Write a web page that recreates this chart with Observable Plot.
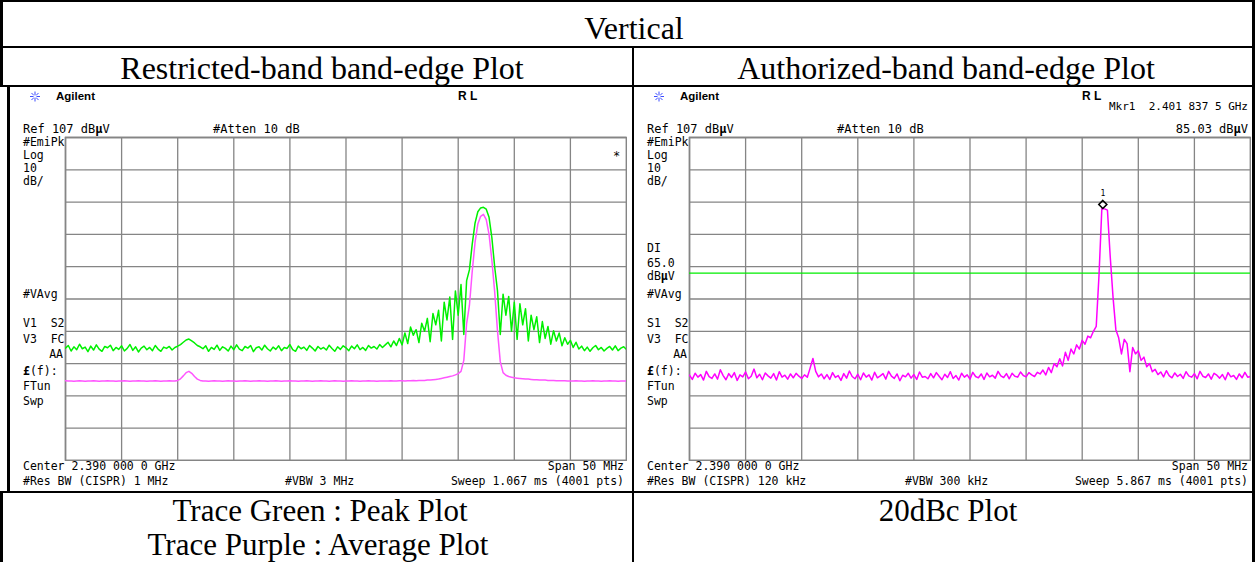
<!DOCTYPE html>
<html>
<head>
<meta charset="utf-8">
<script src="https://cdn.jsdelivr.net/npm/d3@7"></script>
<script src="https://cdn.jsdelivr.net/npm/@observablehq/plot@0.6"></script>
<style>
  body { margin: 0; background: #fff; }
  #page { position: relative; width: 1255px; height: 562px; overflow: hidden; background: #fff; }
  #page svg.panel { position: absolute; }
  #overlay { position: absolute; left: 0; top: 0; pointer-events: none; }
</style>
</head>
<body>
<div id="page"></div>
<script>
// ---- Analyzer settings (both screens) ----
const centerMHz = 2390;
const spanMHz = 50;
const refLevel = 107;      // dBµV, top graticule line
const dBPerDiv = 10;
const divisions = 10;
const sweepStepMHz = 0.25; // spacing of the readings below, starting at the left edge

// ---- Restricted-band plot: peak detector trace (green), dBµV ----
const peakTrace = [
  41.8, 42.6, 40.9, 42.2, 41.3, 43.0, 41.6, 42.1, 40.7, 42.4,
  41.2, 42.8, 41.5, 40.8, 42.3, 41.9, 42.7, 41.0, 42.0, 41.4,
  42.5, 40.9, 41.7, 42.9, 41.1, 42.2, 40.6, 41.8, 42.4, 41.3,
  42.0, 41.0, 42.6, 41.5, 40.8, 42.1, 41.7, 42.3, 41.2, 42.0,
  42.4, 42.9, 43.6, 44.3, 44.6, 44.0, 43.4, 42.6, 42.2,
  41.6, 42.5, 40.8, 42.0, 41.4, 42.7, 41.1, 42.2, 41.7, 40.9,
  42.4, 41.3, 42.8, 41.5, 41.0, 42.3, 41.8, 42.6, 40.7, 41.9,
  42.2, 41.2, 42.7, 41.6, 40.9, 42.1, 41.4, 42.5, 41.0, 42.0,
  41.7, 42.9, 41.3, 40.8, 42.4, 41.6, 42.1, 41.1, 42.6, 41.8,
  40.9, 42.3, 41.5, 42.0, 41.2, 42.7, 41.7, 40.8, 42.2, 41.4,
  42.5, 41.9, 41.0, 42.4, 41.6, 42.8, 41.3, 42.0, 41.1, 42.6,
  41.8, 42.3, 41.5, 42.9, 42.0,
  42.8, 43.6, 42.2, 44.0, 42.6, 44.8, 42.8, 46.5, 43.2, 48.3,
  45.8, 47.5, 43.5, 49.5, 47.0, 51.0, 43.8, 52.5, 49.0, 53.5,
  44.0, 56.0, 50.5, 57.6, 44.5, 59.5, 52.0, 61.5, 46.0, 62.7,
  66.0, 74.0, 80.5, 84.0, 85.2, 85.4, 84.8, 82.3, 76.0, 67.0,
  59.6, 46.0, 58.5, 52.0, 57.8, 47.0, 56.0, 44.5, 55.5, 49.0,
  54.0, 44.0, 52.0, 47.5, 51.5, 43.5, 50.0, 44.8, 48.5, 43.0,
  47.2, 44.0, 46.5, 42.5, 45.0, 43.0, 44.2, 42.0, 43.6,
  41.5, 42.4, 41.0, 42.1, 40.8, 41.9, 42.6, 41.3, 42.0, 40.9,
  41.7, 42.3, 41.2, 42.5, 41.0, 41.8, 42.2, 41.4
];

// ---- Restricted-band plot: average detector trace (purple), dBµV ----
const averageTrace = [
  31.7, 31.6, 31.6, 31.5, 31.6, 31.7, 31.6, 31.5, 31.6, 31.6,
  31.7, 31.6, 31.5, 31.6, 31.6, 31.7, 31.6, 31.6, 31.5, 31.6,
  31.6, 31.7, 31.6, 31.5, 31.6, 31.6, 31.7, 31.6, 31.6, 31.5,
  31.6, 31.6, 31.7, 31.6, 31.5, 31.6, 31.6, 31.7, 31.6, 31.6,
  31.8, 32.3, 33.2, 34.2, 34.6, 34.0, 33.0, 32.2, 31.8,
  31.6, 31.6, 31.5, 31.6, 31.7, 31.6, 31.6, 31.5, 31.6, 31.7,
  31.6, 31.6, 31.5, 31.6, 31.6, 31.7, 31.6, 31.5, 31.6, 31.6,
  31.7, 31.6, 31.6, 31.5, 31.6, 31.6, 31.7, 31.6, 31.5, 31.6,
  31.6, 31.7, 31.6, 31.6, 31.5, 31.6, 31.6, 31.7, 31.6, 31.5,
  31.6, 31.6, 31.7, 31.6, 31.6, 31.5, 31.6, 31.7, 31.6, 31.6,
  31.5, 31.6, 31.6, 31.7, 31.6, 31.6, 31.5, 31.6, 31.6, 31.7,
  31.6, 31.6, 31.5, 31.6, 31.6,
  31.6, 31.6, 31.7, 31.6, 31.6, 31.7, 31.7, 31.6, 31.7, 31.7, 31.8, 31.7, 31.8, 31.8,
  31.8, 31.9, 31.9, 32.0, 32.1, 32.2, 32.4, 32.6, 32.8, 33.0, 33.2, 33.5, 33.9, 34.6, 38.0, 49.4,
  55.0, 65.5, 74.5, 80.2, 82.6, 83.2, 81.6, 77.0, 69.0, 59.3, 47.2, 37.6, 34.2, 33.4, 33.0, 32.8, 32.6,
  32.5, 32.4, 32.3, 32.2, 32.2, 32.1, 32.0, 32.0, 31.9, 31.9,
  31.9, 31.8, 31.8, 31.8, 31.7, 31.7, 31.7, 31.7, 31.6, 31.6,
  31.6, 31.7, 31.6, 31.6, 31.5, 31.6, 31.6, 31.7, 31.6, 31.6,
  31.5, 31.6, 31.6, 31.7, 31.6, 31.6, 31.5, 31.6, 31.6, 31.6
];

// ---- Authorized-band (20 dBc) plot: trace (purple), dBµV ----
const dBcTrace = [
  33.4, 32.1, 34.0, 32.8, 33.6, 31.9, 34.6, 33.0, 32.4, 33.8,
  32.2, 35.1, 33.3, 32.0, 33.9, 32.7, 34.2, 31.8, 33.5, 32.9,
  34.4, 32.3, 33.1, 35.3, 32.6, 33.7, 32.0, 34.1, 33.2, 32.5,
  33.9, 31.9, 34.5, 32.8, 33.4, 32.2, 33.8, 32.6, 34.0, 33.1,
  32.4, 33.5, 32.8, 35.6, 38.6, 34.6, 32.9, 33.8, 32.3,
  33.6, 32.1, 34.2, 32.7, 33.3, 31.8, 33.9, 32.5, 34.7, 33.0,
  32.3, 33.7, 32.0, 34.1, 32.8, 33.5, 31.9, 34.3, 32.6, 33.2,
  33.9, 32.2, 34.6, 33.1, 32.4, 33.8, 31.7, 33.4, 32.9, 34.0,
  32.5, 33.6, 32.1, 34.4, 32.8, 33.0, 32.3, 33.9, 32.6, 34.2,
  33.1, 32.0, 33.7, 32.7, 34.5, 32.4, 33.3, 31.9, 34.0, 32.8,
  33.5, 32.2, 34.3, 33.0, 32.6, 33.8, 32.1, 34.1, 32.9, 33.4,
  32.5, 34.6, 33.2, 32.7, 33.9, 32.3, 34.0, 33.1, 32.8, 34.4,
  33.3, 32.9, 34.2, 33.5, 33.0, 34.3,
  33.8, 35.0, 33.5, 35.8, 34.2, 37.0, 36.0, 38.5, 36.3, 40.5, 38.0, 41.5, 40.0,
  42.8, 41.5, 44.2, 43.0, 45.5, 45.0, 47.0,
  48.5, 64.5, 85.03, 84.9, 84.5, 70.0, 57.5, 47.5,
  45.0, 40.0, 44.5, 43.2, 34.5, 42.0, 40.0, 41.0, 38.0, 39.0, 36.0, 37.0, 34.5,
  35.2, 33.6, 34.4, 32.9, 34.8, 33.3, 32.6, 34.1, 33.0, 33.7,
  32.4, 34.5, 33.2, 32.8, 33.9, 32.3, 34.6, 33.1, 32.7, 33.8,
  32.2, 34.0, 33.4, 32.5, 33.6, 32.0, 34.2, 32.9, 33.3, 32.1,
  33.8, 32.6, 34.3, 32.8, 33.0
];

// ---- Marker and display line on the 20 dBc screen ----
const markerGHz = 2.4018375;
const markerLevel = 85.03;
const displayLine = 65.0;

// Sweep frequencies (MHz) and graticule positions
const startMHz = centerMHz - spanMHz / 2;
const stopMHz = centerMHz + spanMHz / 2;
const sweepMHz = peakTrace.map((_, i) => startMHz + i * sweepStepMHz);
const freqGrid = d3.range(divisions + 1).map(k => startMHz + k * spanMHz / divisions);
const levelGrid = d3.range(divisions + 1).map(k => refLevel - k * dBPerDiv);
const asRows = levels => levels.map((v, i) => ({f: sweepMHz[i], v}));

const page = document.getElementById("page");

function screen(extraMarks) {
  return Plot.plot({
    width: 563,
    height: 325,
    margin: 1,
    x: {domain: [startMHz, stopMHz], axis: null},
    y: {domain: [refLevel - divisions * dBPerDiv, refLevel], axis: null},
    marks: [
      Plot.ruleX(freqGrid, {stroke: "#858585", strokeWidth: 1.3}),
      Plot.ruleY(levelGrid, {stroke: "#858585", strokeWidth: 1.3}),
      Plot.frame({stroke: "#858585", strokeWidth: 1.6}),
      ...extraMarks
    ]
  });
}

// Restricted-band band-edge screen
const left = screen([
  Plot.line(asRows(averageTrace), {x: "f", y: "v", stroke: "#ff55ff", strokeWidth: 1.5, clip: true}),
  Plot.line(asRows(peakTrace), {x: "f", y: "v", stroke: "#00f000", strokeWidth: 1.5, clip: true})
]);
left.setAttribute("class", (left.getAttribute("class") || "") + " panel");
left.style.left = "64px";
left.style.top = "136px";
page.appendChild(left);

// Authorized-band (20 dBc) screen
const markerMHz = markerGHz * 1000;
const right = screen([
  Plot.ruleY([displayLine], {stroke: "#00ee00", strokeWidth: 1.4}),
  Plot.line(asRows(dBcTrace), {x: "f", y: "v", stroke: "#ff00ff", strokeWidth: 1.5, clip: true}),
  Plot.dot([{f: markerMHz, v: markerLevel}], {x: "f", y: "v", symbol: "diamond2", r: 3.6, stroke: "#000", strokeWidth: 1.6, dy: -4}),
  Plot.text([{f: markerMHz, v: markerLevel}], {x: "f", y: "v", text: () => "1", dy: -15, fontSize: 8, fill: "#000", fontFamily: "DejaVu Sans Mono"})
]);
right.setAttribute("class", (right.getAttribute("class") || "") + " panel");
right.style.left = "688px";
right.style.top = "136px";
page.appendChild(right);

// ---- Table frame, headings and on-screen annotations ----
const svg = d3.select(page).append("svg")
  .attr("id", "overlay").attr("width", 1255).attr("height", 562);

const bars = [
  [0, 0, 1255, 2], [0, 46, 1255, 2], [0, 85, 1255, 2], [0, 491, 1255, 2],
  [0, 0, 3, 87], [0, 491, 3, 71], [7, 87, 3, 404],
  [1252, 0, 3, 562], [632, 47, 2, 515]
];
svg.selectAll("rect.bar").data(bars).join("rect")
  .attr("x", d => d[0]).attr("y", d => d[1]).attr("width", d => d[2]).attr("height", d => d[3])
  .attr("fill", "#000");

const serif = (x, y, t, size = 32) => svg.append("text").attr("x", x).attr("y", y)
  .attr("text-anchor", "middle").attr("font-family", "Liberation Serif, Times New Roman, serif")
  .attr("font-size", size).attr("fill", "#000").text(t);

serif(634, 39, "Vertical");
serif(322, 79, "Restricted-band band-edge Plot");
serif(946, 79, "Authorized-band band-edge Plot");
serif(320, 521, "Trace Green : Peak Plot", 31);
serif(318, 555, "Trace Purple : Average Plot", 31);
serif(948, 521, "20dBc Plot", 31);

function mono(x, y, t, anchor = "start", size = 11.5) {
  const el = svg.append("text").attr("x", x).attr("y", y)
    .attr("text-anchor", anchor).attr("font-family", "DejaVu Sans Mono, monospace")
    .attr("font-size", size).attr("fill", "#000").attr("xml:space", "preserve")
    .style("white-space", "pre");
  // µ and £ are drawn heavier on the analyzer screen
  t.split(/([µ£])/).forEach(part => {
    if (!part) return;
    const span = el.append("tspan").text(part);
    if (part === "µ" || part === "£") span.attr("font-weight", "bold");
  });
  return el;
}

function starburst(cx, cy) {
  const g = svg.append("g").attr("stroke", "#3c4dff").attr("stroke-width", 1);
  d3.range(8).forEach(k => {
    const a = k * Math.PI / 4;
    g.append("line")
      .attr("x1", cx + 1.5 * Math.cos(a)).attr("y1", cy + 1.5 * Math.sin(a))
      .attr("x2", cx + 5 * Math.cos(a)).attr("y2", cy + 5 * Math.sin(a));
  });
}

const fmtGroups = s => s.replace(/^(\d\.\d{3})(\d{3})(\d)$/, "$1 $2 $3");
const centerText = `Center ${fmtGroups((centerMHz / 1000).toFixed(7))} GHz`;

function readouts(ox, opts) {
  starburst(ox + 35, 96.5);
  svg.append("text").attr("x", ox + 56).attr("y", 100)
    .attr("font-family", "Liberation Sans, Arial, sans-serif").attr("font-weight", "bold")
    .attr("font-size", 11.5).text("Agilent");
  svg.append("text").attr("x", ox + 458).attr("y", 100)
    .attr("font-family", "Liberation Sans, Arial, sans-serif").attr("font-weight", "bold")
    .attr("font-size", 12).attr("xml:space", "preserve").text("R L");
  mono(ox + 23, 133, `Ref ${refLevel} dBµV`, "start", 12);
  mono(ox + 213, 133, "#Atten 10 dB", "start", 12);
  mono(ox + 23, 146, "#EmiPk");
  mono(ox + 23, 159, "Log");
  mono(ox + 23, 172, `${dBPerDiv}`);
  mono(ox + 23, 185, "dB/");
  mono(ox + 23, 298, "#VAvg");
  mono(ox + 23, 327, opts.v1);
  mono(ox + 23, 343, "V3  FC");
  mono(ox + 63, 358, "AA", "end");
  mono(ox + 23, 375, "£(f):");
  mono(ox + 23, 390, "FTun");
  mono(ox + 23, 405, "Swp");
  mono(ox + 23, 470, centerText);
  mono(ox + 624, 470, `Span ${spanMHz} MHz`, "end");
  mono(ox + 23, 485, `#Res BW (CISPR) ${opts.rbw}`);
  mono(ox + opts.vbwX, 485, `#VBW ${opts.vbw}`);
  mono(ox + 624, 485, `Sweep ${opts.sweep} (4001 pts)`, "end");
}

readouts(0, {v1: "V1  S2", rbw: "1 MHz", vbw: "3 MHz", vbwX: 285, sweep: "1.067 ms"});
mono(613, 160, "*", "start", 12);

readouts(624, {v1: "S1  S2", rbw: "120 kHz", vbw: "300 kHz", vbwX: 281, sweep: "5.867 ms"});
mono(647, 252, "DI");
mono(647, 267, displayLine.toFixed(1));
mono(647, 280, "dBµV");
mono(1248, 110, `Mkr1  ${fmtGroups(markerGHz.toFixed(7))} GHz`, "end", 11);
mono(1248, 133, `${markerLevel.toFixed(2)} dBµV`, "end", 12);
</script>
</body>
</html>
